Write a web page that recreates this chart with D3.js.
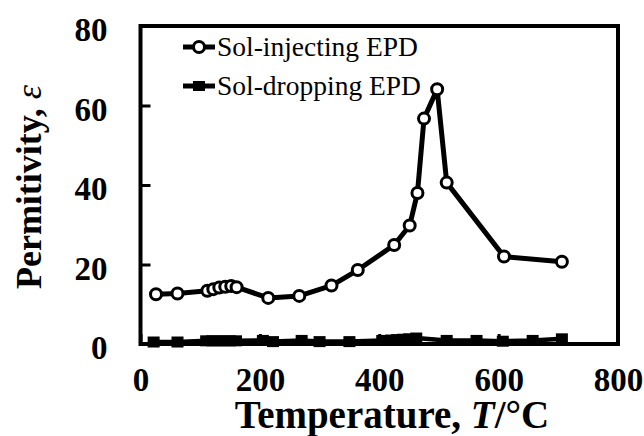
<!DOCTYPE html>
<html>
<head>
<meta charset="utf-8">
<script src="https://cdn.jsdelivr.net/npm/d3@7"></script>
<style>
  body { margin: 0; background: #fff; }
  text { font-family: "Liberation Serif", "Times New Roman", serif; }
</style>
</head>
<body>
<svg width="644" height="436"></svg>
<script>
// data
const injT   = [26, 62, 112, 122, 132, 142, 152, 161, 214, 266, 320, 364, 425, 451, 464, 475, 497, 513, 609, 706];
const injEps = [12.5, 12.7, 13.4, 13.8, 14.2, 14.4, 14.6, 14.3, 11.6, 12.1, 14.7, 18.6, 24.9, 29.8, 38.0, 56.7, 64.1, 40.6, 22.0, 20.7];
const dropT   = [22, 62, 110, 120, 130, 140, 150, 160, 205, 222, 270, 300, 350, 405, 420, 430, 440, 450, 462, 513, 563, 607, 657, 706];
const dropEps = [0.5, 0.5, 0.8, 0.8, 0.8, 0.8, 0.8, 0.8, 0.9, 0.6, 0.9, 0.6, 0.6, 0.9, 1.0, 1.1, 1.2, 1.3, 1.5, 0.9, 0.9, 0.7, 0.9, 1.3];
const xTicks = [0, 200, 400, 600, 800];
const yTicks = [0, 20, 40, 60, 80];
const seriesNames = ['Sol-injecting EPD', 'Sol-dropping EPD'];

const svg = d3.select('svg');
const plotL = 140.5, plotR = 618, plotT = 26, plotB = 344;

const x = d3.scaleLinear().domain([0, 800]).range([plotL, plotR]);
const y = d3.scaleLinear().domain([0, 80]).range([plotB, plotT]);

// axes, ticks pointing inward
const xAxis = svg.append('g')
  .attr('transform', `translate(0,${plotB})`)
  .call(d3.axisBottom(x).tickValues(xTicks).tickSizeInner(-10).tickSizeOuter(0).tickPadding(25));
const yAxis = svg.append('g')
  .attr('transform', `translate(${plotL},0)`)
  .call(d3.axisLeft(y).tickValues(yTicks).tickSizeInner(-10).tickSizeOuter(0).tickPadding(33));

[xAxis, yAxis].forEach(g => {
  g.select('.domain').remove();
  g.selectAll('line').attr('stroke', '#000').attr('stroke-width', 3);
  g.selectAll('text')
    .attr('fill', '#000')
    .style('font-family', '"Liberation Serif", serif')
    .style('font-size', '33px')
    .style('font-weight', 'bold');
});
yAxis.selectAll('text').attr('dy', '0.36em').attr('y', 3);
xAxis.selectAll('text').attr('dy', '0.68em');

// frame
svg.append('rect')
  .attr('x', plotL).attr('y', plotT)
  .attr('width', plotR - plotL).attr('height', plotB - plotT)
  .attr('fill', 'none').attr('stroke', '#000').attr('stroke-width', 4);

const line = d3.line().x(d => x(d[0])).y(d => y(d[1]));
const inj = injT.map((t, i) => [t, injEps[i]]);
const drop = dropT.map((t, i) => [t, dropEps[i]]);

// sol-dropping
svg.append('path').datum(drop)
  .attr('d', line).attr('fill', 'none')
  .attr('stroke', '#000').attr('stroke-width', 4.5).attr('stroke-linejoin', 'round');
svg.append('g').selectAll('rect').data(drop).join('rect')
  .attr('x', d => x(d[0]) - 6).attr('y', d => y(d[1]) - 5.5)
  .attr('width', 12).attr('height', 11)
  .attr('fill', '#000');

// sol-injecting
svg.append('path').datum(inj)
  .attr('d', line).attr('fill', 'none')
  .attr('stroke', '#000').attr('stroke-width', 5).attr('stroke-linejoin', 'round');
svg.append('g').selectAll('circle').data(inj).join('circle')
  .attr('cx', d => x(d[0])).attr('cy', d => y(d[1]))
  .attr('r', 5.5)
  .attr('fill', '#fff').attr('stroke', '#000').attr('stroke-width', 3);

// legend
const legend = svg.append('g');
seriesNames.forEach((name, i) => {
  const ly = 47 + i * 39;
  legend.append('line')
    .attr('x1', 183).attr('x2', 215).attr('y1', ly).attr('y2', ly)
    .attr('stroke', '#000').attr('stroke-width', 5);
  if (i === 0) {
    legend.append('circle').attr('cx', 199).attr('cy', ly).attr('r', 5.5)
      .attr('fill', '#fff').attr('stroke', '#000').attr('stroke-width', 3);
  } else {
    legend.append('rect').attr('x', 193).attr('y', ly - 5).attr('width', 12).attr('height', 10)
      .attr('fill', '#000');
  }
  legend.append('text')
    .attr('x', 217).attr('y', ly).attr('dy', '0.33em')
    .style('font-size', '27.5px')
    .text(name);
});

// axis titles
const xTitle = svg.append('text')
  .attr('x', 392).attr('y', 428)
  .attr('text-anchor', 'middle')
  .style('font-size', '39px').style('font-weight', 'bold');
xTitle.append('tspan').text('Temperature, ');
xTitle.append('tspan').style('font-style', 'italic').text('T');
xTitle.append('tspan').text('/°C');

const yTitle = svg.append('text')
  .attr('transform', 'translate(41,187) rotate(-90)')
  .attr('text-anchor', 'middle')
  .style('font-size', '36px').style('font-weight', 'bold');
yTitle.append('tspan').text('Permitivity, ');
yTitle.append('tspan').style('font-style', 'italic').style('font-weight', 'normal').text('ε');
</script>
</body>
</html>
